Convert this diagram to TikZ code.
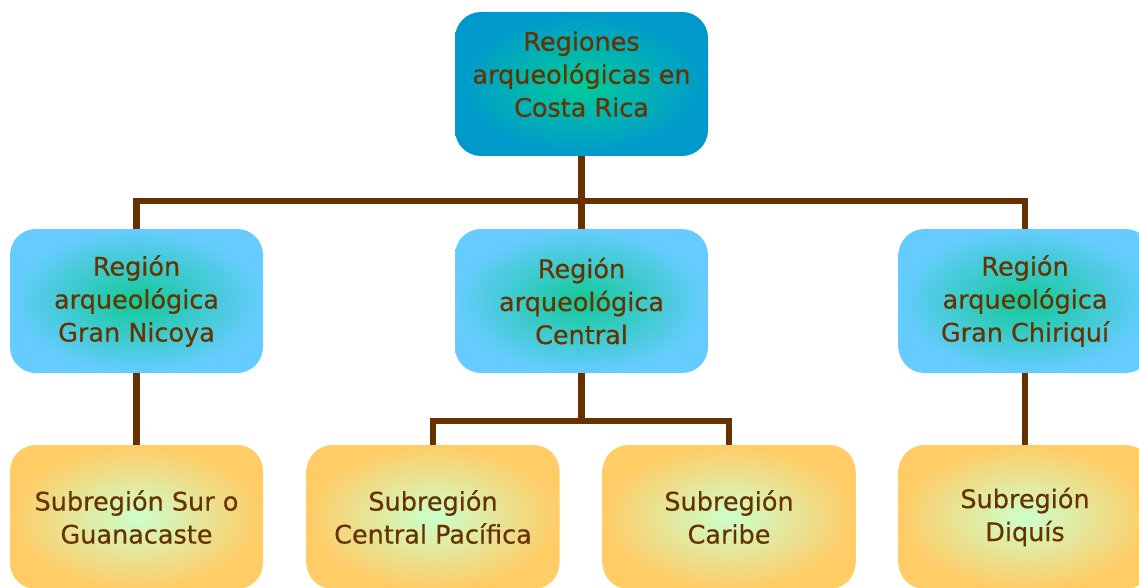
\documentclass[tikz,border=0pt]{standalone}
\usepackage{fontspec}
\setmainfont{DejaVu Sans}[FakeBold=0.4]
\definecolor{crBrown}{HTML}{663300}
\definecolor{crTopOut}{HTML}{0099CC}
\definecolor{crTopIn}{HTML}{00CC99}
\definecolor{crMidOut}{HTML}{66CCFF}
\definecolor{crMidIn}{HTML}{11C998}
\definecolor{crSubOut}{HTML}{FFCC66}
\definecolor{crSubIn}{HTML}{CCFFCC}
\usepackage{tikz}
\usetikzlibrary{positioning, calc, shadings}

\begin{document}
\begin{tikzpicture}[x=1pt, y=-1pt,
  box/.style={rounded corners=26pt, minimum width=253pt, minimum height=144pt,
    align=center, text=crBrown, font=\fontsize{25.5}{33}\selectfont, inner sep=0pt},
  topbox/.style={box, inner color=crTopIn, outer color=crTopOut, text depth=20pt},
  regbox/.style={box, inner color=crMidIn, outer color=crMidOut},
  subbox/.style={box, inner color=crSubIn, outer color=crSubOut},
  link/.style={draw=crBrown, line width=6.5pt}]

  \useasboundingbox (0,0) rectangle (1139,588);

  \node[topbox] (top) at (581.5,84) {Regiones\\arqueológicas en\\Costa Rica};

  \node[regbox] (nicoya) at (136.5,301) {Región\\arqueológica\\Gran Nicoya};
  \node[regbox] (central) at (581.5,301) {Región\\arqueológica\\Central};
  \node[regbox] (chiriqui) at (1025,301) {Región\\arqueológica\\Gran Chiriquí};

  \node[subbox] (guana) at (136.5,517) {Subregión Sur o\\Guanacaste};
  \node[subbox] (pacif) at (433,517) {Subregión\\Central Pacífica};
  \node[subbox] (caribe) at (729,517) {Subregión\\Caribe};
  \node[subbox] (diquis) at (1025,517) {Subregión\\Diquís};

  \draw[link] (top.south) -- (central.north);
  \draw[link] (top.south) ++(0,45) coordinate (bus) -| (nicoya.north);
  \draw[link] (bus) -| (chiriqui.north);

  \draw[link] (nicoya.south) -- (guana.north);
  \draw[link] (chiriqui.south) -- (diquis.north);
  \draw[link] (central.south) -- ++(0,48) coordinate (subbus) -| (pacif.north);
  \draw[link] (subbus) -| (caribe.north);
\end{tikzpicture}
\end{document}
